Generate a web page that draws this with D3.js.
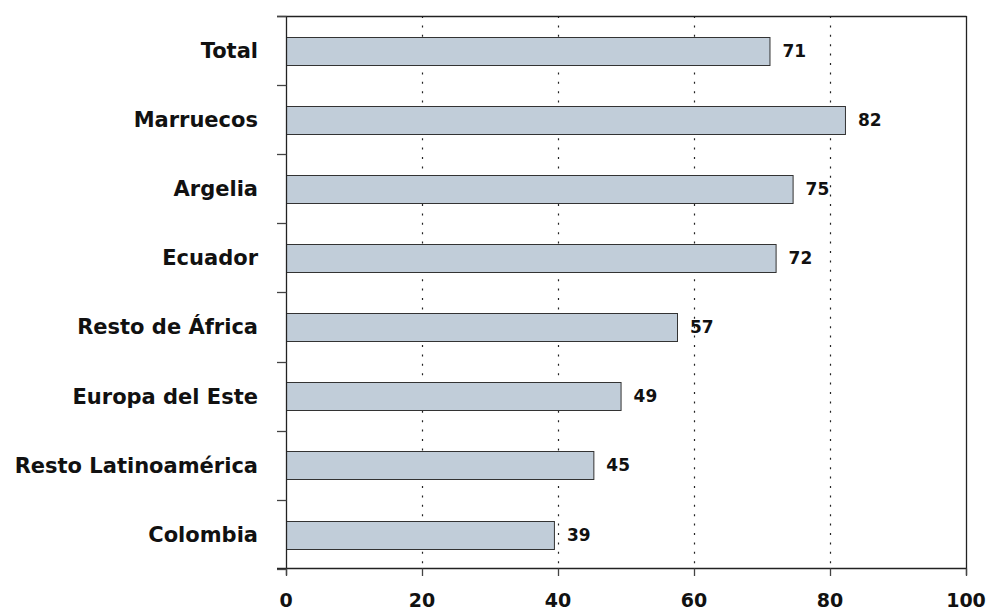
<!DOCTYPE html>
<html>
<head>
<meta charset="utf-8">
<script src="https://cdn.jsdelivr.net/npm/d3@7"></script>
<style>
  html, body { margin: 0; padding: 0; background: #fff; }
  svg { display: block; }
  text { font-family: "DejaVu Sans", Verdana, sans-serif; font-weight: bold; fill: #111; }
</style>
</head>
<body>
<script>
const categories = ["Total", "Marruecos", "Argelia", "Ecuador", "Resto de África", "Europa del Este", "Resto Latinoamérica", "Colombia"];
const values = [71.1, 82.2, 74.5, 72.0, 57.5, 49.2, 45.2, 39.4];
const valueLabels = ["71", "82", "75", "72", "57", "49", "45", "39"];
const xTicks = [0, 20, 40, 60, 80, 100];

const W = 988, H = 610;
const svg = d3.select("body").append("svg").attr("width", W).attr("height", H);

const x = d3.scaleLinear().domain([0, 100]).range([286, 966]);
const y = d3.scaleBand().domain(categories).range([16, 569]).paddingInner(0.6).paddingOuter(0.3);
const step = y.step();
const plotTop = 16, plotBottom = 568.5;

// dotted grid
svg.append("g").selectAll("line").data(xTicks.filter(d => d > 0 && d < 100)).join("line")
  .attr("x1", d => Math.round(x(d)) + 0.5).attr("x2", d => Math.round(x(d)) + 0.5)
  .attr("y1", plotTop).attr("y2", plotBottom)
  .attr("stroke", "#222").attr("stroke-width", 1.2).attr("stroke-dasharray", "2,7.4");

// bars
svg.append("g").selectAll("rect").data(categories).join("rect")
  .attr("x", x(0) + 0.5)
  .attr("y", (d) => Math.round(y(d)) + 0.5)
  .attr("width", (d, i) => x(values[i]) - x(0))
  .attr("height", Math.round(y.bandwidth()))
  .attr("fill", "#c1cdd9").attr("stroke", "#333").attr("stroke-width", 1);

// value labels
svg.append("g").selectAll("text").data(categories).join("text")
  .attr("x", (d, i) => x(values[i]) + 13)
  .attr("y", d => y(d) + y.bandwidth() / 2)
  .attr("dy", "0.36em")
  .attr("font-size", 17)
  .text((d, i) => valueLabels[i]);

// category labels
svg.append("g").selectAll("text").data(categories).join("text")
  .attr("x", 258)
  .attr("y", d => y(d) + y.bandwidth() / 2)
  .attr("dy", "0.35em")
  .attr("text-anchor", "end")
  .attr("font-size", 21)
  .text(d => d);

// frame: top, right
const ax = svg.append("g").attr("stroke", "#222").attr("stroke-width", 1.3).attr("fill", "none");
ax.append("line").attr("x1", 277).attr("x2", 966.5).attr("y1", plotTop + 0.5).attr("y2", plotTop + 0.5);
ax.append("line").attr("x1", 966.5).attr("x2", 966.5).attr("y1", plotTop).attr("y2", 575);
// left axis
ax.append("line").attr("x1", 286.5).attr("x2", 286.5).attr("y1", plotTop).attr("y2", 575);
// bottom axis
ax.append("line").attr("x1", 277).attr("x2", 966.5).attr("y1", plotBottom).attr("y2", plotBottom);

// y ticks at band boundaries
const bounds = categories.map(c => y(c) - step * y.paddingInner() / 2).concat([y(categories[categories.length - 1]) + y.bandwidth() + step * y.paddingInner() / 2]);
svg.append("g").selectAll("line").data(bounds).join("line")
  .attr("x1", 277).attr("x2", 286.5)
  .attr("y1", d => Math.round(d) + 0.5).attr("y2", d => Math.round(d) + 0.5)
  .attr("stroke", "#444").attr("stroke-width", 1.3);

// x ticks
svg.append("g").selectAll("line").data(xTicks).join("line")
  .attr("x1", d => Math.round(x(d)) + 0.5).attr("x2", d => Math.round(x(d)) + 0.5)
  .attr("y1", plotBottom).attr("y2", 576)
  .attr("stroke", "#444").attr("stroke-width", 1.3);

svg.append("g").selectAll("text").data(xTicks).join("text")
  .attr("x", d => x(d))
  .attr("y", 607)
  .attr("text-anchor", "middle")
  .attr("font-size", 19)
  .text(d => d);
</script>
</body>
</html>
